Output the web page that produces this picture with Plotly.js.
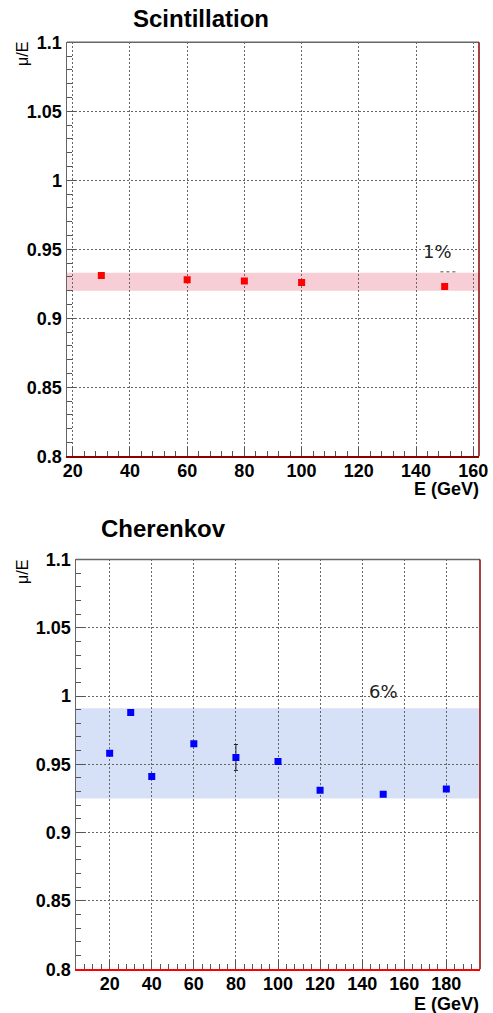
<!DOCTYPE html>
<html>
<head>
<meta charset="utf-8">
<script src="https://cdn.plot.ly/plotly-3.0.1.min.js"></script>
<style>
  html, body { margin: 0; padding: 0; background: #fff; }
  #chart { width: 493px; height: 1013px; }
</style>
</head>
<body>
<div id="chart"></div>
<script>
// Scintillation channel: beam energy (GeV) and mean response mu/E
const energyScint = [30, 60, 80, 100, 150];
const respScint = [0.931, 0.928, 0.927, 0.926, 0.923];
const bandScint = [0.920, 0.933];

// Cherenkov channel
const energyCher = [20, 30, 40, 60, 80, 100, 120, 150, 180];
const respCher = [0.958, 0.988, 0.941, 0.965, 0.955, 0.952, 0.931, 0.928, 0.932];
const errCher = [0, 0, 0, 0, 0.0095, 0, 0, 0, 0];
const bandCher = [0.925, 0.991];

// Axis ticks and labels
const yTickVals = [0.8, 0.85, 0.9, 0.95, 1, 1.05, 1.1];
const yTickText = ['0.8', '0.85', '0.9', '0.95', '1', '1.05', '1.1'];
const panelTitles = ['Scintillation', 'Cherenkov'];
const bandLabels = ['1%', '6%'];
const xTitle = 'E (GeV)';
const yTitle = 'μ/E';

const W = 493, H = 1013;
const px = v => v / W;
const py = v => 1 - v / H;

const tickFont = { family: 'Liberation Sans, Arial, sans-serif', size: 18, color: '#000', weight: 'bold' };
const gridStyle = { showgrid: true, gridcolor: '#666', griddash: '2px,2px', gridwidth: 1 };

function xAxis(domain, range, anchor, lineColor) {
  return Object.assign({
    domain: domain, range: range, anchor: anchor,
    tickmode: 'linear', tick0: 0, dtick: 20,
    ticks: 'inside', ticklen: 9, tickcolor: '#555', tickwidth: 1,
    minor: { dtick: 4, tick0: 0, ticks: 'inside', ticklen: 5, tickcolor: '#555', showgrid: false },
    showline: true, linecolor: lineColor, linewidth: 1.5, mirror: false,
    zeroline: false, tickfont: tickFont, ticklabelstandoff: -2,
    automargin: false, fixedrange: true
  }, gridStyle);
}
function yAxis(domain, anchor) {
  return Object.assign({
    domain: domain, range: [0.8, 1.1], anchor: anchor,
    tickmode: 'array', tickvals: yTickVals, ticktext: yTickText,
    ticks: 'inside', ticklen: 9, tickcolor: '#555', tickwidth: 1,
    minor: { dtick: 0.01, tick0: 0.8, ticks: 'inside', ticklen: 5, tickcolor: '#555', showgrid: false },
    showline: true, linecolor: '#666', linewidth: 1.5, mirror: false,
    zeroline: false, tickfont: tickFont, automargin: false, fixedrange: true
  }, gridStyle);
}

const traces = [
  {
    x: energyScint, y: respScint, xaxis: 'x', yaxis: 'y',
    type: 'scatter', mode: 'markers',
    marker: { symbol: 'square', size: 7, color: '#ff0000', line: { width: 0 } },
    hoverinfo: 'skip'
  },
  {
    x: energyCher, y: respCher, xaxis: 'x2', yaxis: 'y2',
    type: 'scatter', mode: 'markers',
    error_y: { type: 'data', array: errCher, visible: true, color: '#222', thickness: 1, width: 2 },
    marker: { symbol: 'square', size: 7, color: '#0000ff', line: { width: 0 } },
    hoverinfo: 'skip'
  }
];

const layout = {
  width: W, height: H,
  margin: { l: 0, r: 0, t: 0, b: 0 },
  paper_bgcolor: '#fff', plot_bgcolor: '#fff',
  showlegend: false,
  xaxis: xAxis([px(67), px(479)], [18, 162], 'y', '#8b0000'),
  yaxis: yAxis([py(456.3), py(42.3)], 'x'),
  xaxis2: xAxis([px(76), px(480)], [4, 196], 'y2', '#ff0000'),
  yaxis2: yAxis([py(969.2), py(559.4)], 'x2'),
  shapes: [
    // acceptance bands
    { type: 'rect', layer: 'below', xref: 'x domain', yref: 'y', x0: 0, x1: 1,
      y0: bandScint[0], y1: bandScint[1], fillcolor: '#f7cdd6', line: { width: 0 } },
    { type: 'rect', layer: 'below', xref: 'x2 domain', yref: 'y2', x0: 0, x1: 1,
      y0: bandCher[0], y1: bandCher[1], fillcolor: '#d6e1f8', line: { width: 0 } },
    // frame: top edge and right edge
    { type: 'line', xref: 'x domain', yref: 'y domain', x0: 0, x1: 1, y0: 1, y1: 1, line: { color: '#666', width: 1.5 } },
    { type: 'line', xref: 'x domain', yref: 'y domain', x0: 1, x1: 1, y0: 0, y1: 1, line: { color: '#8b0000', width: 1.5 } },
    { type: 'line', xref: 'x2 domain', yref: 'y2 domain', x0: 0, x1: 1, y0: 1, y1: 1, line: { color: '#666', width: 1.5 } },
    { type: 'line', xref: 'x2 domain', yref: 'y2 domain', x0: 1, x1: 1, y0: 0, y1: 1, line: { color: '#8b0000', width: 1.5 } },
    // small dashed tick under the 1% label
    { type: 'line', xref: 'x', yref: 'y', x0: 148.5, x1: 154.3, y0: 0.9337, y1: 0.9337,
      line: { color: '#888', width: 1.5, dash: 'dot' } }
  ],
  annotations: [
    { text: panelTitles[0], xref: 'paper', yref: 'paper', x: px(131), y: py(18),
      xanchor: 'left', yanchor: 'middle', showarrow: false,
      font: { family: 'Liberation Sans, Arial, sans-serif', size: 24, color: '#000', weight: 'bold' } },
    { text: panelTitles[1], xref: 'paper', yref: 'paper', x: px(99), y: py(528),
      xanchor: 'left', yanchor: 'middle', showarrow: false,
      font: { family: 'Liberation Sans, Arial, sans-serif', size: 24, color: '#000', weight: 'bold' } },
    { text: xTitle, xref: 'paper', yref: 'paper', x: px(481), y: py(489),
      xanchor: 'right', yanchor: 'middle', showarrow: false,
      font: { family: 'Liberation Sans, Arial, sans-serif', size: 18, color: '#000', weight: 'bold' } },
    { text: xTitle, xref: 'paper', yref: 'paper', x: px(481), y: py(1004),
      xanchor: 'right', yanchor: 'middle', showarrow: false,
      font: { family: 'Liberation Sans, Arial, sans-serif', size: 18, color: '#000', weight: 'bold' } },
    { text: yTitle, xref: 'paper', yref: 'paper', x: px(22), y: py(40), textangle: -90,
      xanchor: 'center', yanchor: 'top', showarrow: false,
      font: { family: 'Liberation Sans, Arial, sans-serif', size: 16, color: '#000' } },
    { text: yTitle, xref: 'paper', yref: 'paper', x: px(22), y: py(558), textangle: -90,
      xanchor: 'center', yanchor: 'top', showarrow: false,
      font: { family: 'Liberation Sans, Arial, sans-serif', size: 16, color: '#000' } },
    { text: bandLabels[0], xref: 'x', yref: 'y', x: 147.5, y: 0.9485,
      xanchor: 'center', yanchor: 'middle', showarrow: false,
      font: { family: 'DejaVu Sans, sans-serif', size: 18, color: '#222' } },
    { text: bandLabels[1], xref: 'x2', yref: 'y2', x: 150, y: 1.003,
      xanchor: 'center', yanchor: 'middle', showarrow: false,
      font: { family: 'DejaVu Sans, sans-serif', size: 18, color: '#222' } }
  ]
};

Plotly.newPlot('chart', traces, layout, { displayModeBar: false, staticPlot: true });
</script>
</body>
</html>
